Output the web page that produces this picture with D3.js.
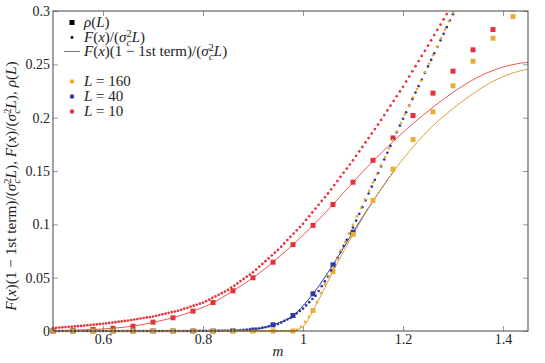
<!DOCTYPE html>
<html>
<head>
<meta charset="utf-8">
<script src="https://cdn.jsdelivr.net/npm/d3@7"></script>
<style>
  body { margin: 0; background: #fff; }
</style>
</head>
<body>
<div id="chart"></div>
<script>
// tick values
const xTicks = [0.6, 0.8, 1, 1.2, 1.4];
const yTicks = [0, 0.05, 0.1, 0.15, 0.2, 0.25, 0.3];

// rho(L): squares every 0.04 in m
const sqM = [0.50, 0.54, 0.58, 0.62, 0.66, 0.70, 0.74, 0.78, 0.82, 0.86, 0.90, 0.94,
             0.98, 1.02, 1.06, 1.10, 1.14, 1.18, 1.22, 1.26, 1.30, 1.34, 1.38, 1.42];
const redSq = [.0002, .0006, .0014, .0026, .0045, .0083, .0124, .0186, .0267, .0377, .0499, .0645,
               .0810, .0990, .1186, .1395, .1600, .1810, .2020, .2230, .2436, .2636, .2826, .3020];
const blueSq = [0, 0, 0, 0, 0, 0, 0, 0, 0, .0002, .0008, .0058,
                .0145, .0349, .0620, .0926];
const orangeSq = [0, 0, 0, 0, 0, 0, 0, 0, 0, 0, 0, 0,
                  0, .0192, .0558, .0905, .1223, .1517, .1795, .2055, .2299, .2529, .2745, .2948];

// F(x)/(sigma_c^2 L): dotted curves, sampled on a regular m grid
const redStep = 0.00625, blueStep = 0.00625, orangeStep = 0.008;
const redDots = [
  .0028, .0030, .0032, .0034, .0037, .0039, .0041, .0043,
  .0045, .0048, .0051, .0054, .0057, .0059, .0062, .0065,
  .0068, .0072, .0076, .0079, .0083, .0087, .0091, .0094,
  .0098, .0103, .0108, .0112, .0117, .0122, .0127, .0131,
  .0136, .0143, .0150, .0156, .0163, .0170, .0177, .0183,
  .0190, .0199, .0209, .0218, .0228, .0237, .0246, .0256,
  .0265, .0280, .0295, .0310, .0325, .0340, .0355, .0370,
  .0385, .0406, .0426, .0447, .0468, .0488, .0509, .0529,
  .0550, .0576, .0603, .0629, .0655, .0681, .0708, .0734,
  .0760, .0791, .0821, .0852, .0883, .0913, .0944, .0974,
  .1005, .1041, .1076, .1112, .1148, .1183, .1219, .1254,
  .1290, .1329, .1368, .1406, .1445, .1484, .1523, .1561,
  .1600, .1642, .1684, .1726, .1768, .1809, .1851, .1893,
  .1935, .1979, .2024, .2068, .2113, .2157, .2201, .2246,
  .2290, .2338, .2386, .2434, .2483, .2531, .2579, .2627,
  .2675, .2724, .2774, .2823, .2873, .2922, .2971, .3021
];
const blueDots = [
  0, 0, 0, 0, 0, 0, 0, 0, 0, 0,
  0, 0, 0, 0, 0, 0, 0, 0, 0, 0,
  0, 0, 0, 0, 0, 0, 0, 0, 0, 0,
  0, 0, 0, 0, 0, 0, 0, 0, 0, 0,
  0, 0, 0, 0, 0, .0001, .0001, .0001,
  .0001, .0001, .0001, .0002, .0002, .0003, .0003, .0004,
  .0004, .0005, .0006, .0007, .0008, .0010, .0012, .0015,
  .0017, .0022, .0026, .0031, .0035, .0043, .0050, .0058,
  .0065, .0079, .0094, .0108, .0122, .0144, .0166, .0188,
  .0210, .0240, .0270, .0300, .0330, .0375, .0420, .0465,
  .0510, .0568, .0625, .0683, .0740, .0798, .0855, .0913,
  .0970, .1034, .1098, .1161, .1225, .1289, .1353, .1416,
  .1480, .1544, .1608, .1671, .1735, .1799, .1863, .1926,
  .1990, .2051, .2113, .2174, .2235, .2296, .2358, .2419,
  .2480, .2541, .2603, .2664, .2725, .2786, .2848, .2909,
  .2970, .3031
];
const orangeDots = [
  0, 0, 0, 0, 0, 0, 0, 0, 0, 0,
  0, 0, 0, 0, 0, 0, 0, 0, 0, 0,
  0, 0, 0, 0, 0, 0, 0, 0, 0, 0,
  0, 0, 0, 0, 0, 0, 0, 0, 0, 0,
  0, 0, 0, 0, 0, 0, 0, 0, 0, 0,
  0, 0, 0, 0, 0, 0, 0, 0, 0, 0, 0,
  .0010, .0040, .0085, .0135, .0190, .0270, .0355, .0435, .0515, .0595,
  .0675, .0755, .0835, .0915, .0995, .1075, .1154, .1234, .1313, .1393,
  .1472, .1552, .1631, .1711, .1790, .1870, .1950, .2030, .2109, .2189,
  .2268, .2348, .2427, .2507, .2586, .2666, .2745, .2825, .2904, .2984,
  .3063
];

// F(x)(1 - 1st term)/(sigma_c^2 L): solid lines
const redLineM = [0.50, 0.54, 0.58, 0.62, 0.66, 0.70, 0.74, 0.78, 0.82, 0.86, 0.90, 0.94,
                  0.98, 1.02, 1.06, 1.10, 1.14, 1.18, 1.22, 1.26, 1.30, 1.34, 1.38, 1.42, 1.45];
const redLine = [.0003, .0007, .0014, .0026, .0046, .0081, .0125, .0185, .0266, .0376, .0499, .0645,
                 .0810, .0990, .1186, .1395, .1592, .1775, .1945, .2098, .2238, .2355, .2443, .2498, .2520];
const blueLineM = [0.50, 0.82, 0.86, 0.90, 0.94, 0.98, 1.02, 1.06, 1.10, 1.14, 1.18];
const blueLine = [0, 0, .0002, .0012, .0058, .0145, .0349, .0620, .0926, .1218, .1490];
const orangeLineM = [0.50, 0.96, 0.98, 1.00, 1.02, 1.06, 1.10, 1.14, 1.18, 1.22, 1.26, 1.30,
                     1.34, 1.38, 1.42, 1.45];
const orangeLine = [0, 0, .0003, .0040, .0192, .0558, .0905, .1215, .1490, .1725, .1925, .2085,
                    .2225, .2340, .2420, .2455];

const red = "#e5323a", blue = "#2e3a9c", orange = "#e9ae33";
const redLn = "#ee5a5a", orangeLn = "#d9a33c";
const serif = "'Liberation Serif', 'Times New Roman', 'DejaVu Serif', serif";
const fs = 14;

const W = 545, H = 363;
const margin = {top: 11, right: 17, bottom: 32, left: 53};
const iw = W - margin.left - margin.right, ih = H - margin.top - margin.bottom;

const svg = d3.select("#chart").append("svg").attr("width", W).attr("height", H)
  .attr("font-family", serif).attr("font-size", fs);
const g = svg.append("g").attr("transform", `translate(${margin.left},${margin.top})`);

const x = d3.scaleLinear().domain([0.5, 1.45]).range([0, iw]);
const y = d3.scaleLinear().domain([0, 0.3]).range([ih, 0]);

svg.append("defs").append("clipPath").attr("id", "clip")
  .append("rect").attr("x", -5).attr("y", 0).attr("width", iw + 5).attr("height", ih + 10);

const fmt = d => d === 0 ? "0" : String(+d.toFixed(2));

// axes, ticks pointing inward
const ax = g.append("g").attr("class", "axes");
ax.append("g").attr("transform", `translate(0,${ih})`)
  .call(d3.axisBottom(x).tickValues(xTicks).tickSize(-5).tickPadding(3).tickFormat(fmt));
ax.append("g")
  .call(d3.axisLeft(y).tickValues(yTicks).tickSize(-5).tickPadding(3).tickFormat(fmt));
ax.append("g")
  .call(d3.axisTop(x).tickValues(xTicks).tickSize(-5).tickFormat(""));
ax.append("g").attr("transform", `translate(${iw},0)`)
  .call(d3.axisRight(y).tickValues(yTicks).tickSize(-5).tickFormat(""));
ax.selectAll(".domain").remove();
ax.selectAll("g").attr("font-family", serif).attr("font-size", fs);
ax.selectAll(".tick line").attr("stroke", "#999");
ax.selectAll(".tick text").attr("font-family", serif).attr("font-size", fs).attr("fill", "#222");

const plot = g.append("g").attr("clip-path", "url(#clip)");

const line = d3.line().x(d => x(d[0])).y(d => y(d[1])).curve(d3.curveMonotoneX);
const zipLine = (ms, vs) => ms.map((m, i) => [m, vs[i]]);

plot.append("path").attr("d", line(zipLine(redLineM, redLine)))
  .attr("fill", "none").attr("stroke", redLn).attr("stroke-width", 1);
plot.append("path").attr("d", line(zipLine(blueLineM, blueLine)))
  .attr("fill", "none").attr("stroke", blue).attr("stroke-width", 1);
plot.append("path").attr("d", line(zipLine(orangeLineM, orangeLine)))
  .attr("fill", "none").attr("stroke", orangeLn).attr("stroke-width", 1);

const sq = 5;
function squares(vals, color) {
  plot.append("g").selectAll("rect").data(vals).join("rect")
    .attr("x", (d, i) => x(sqM[i]) - sq / 2)
    .attr("y", d => y(d) - sq / 2)
    .attr("width", sq).attr("height", sq)
    .attr("fill", color);
}
squares(redSq, red);
squares(blueSq, blue);
squares(orangeSq, orange);

function dots(vals, step, color) {
  plot.append("g").selectAll("circle").data(vals).join("circle")
    .attr("cx", (d, i) => x(0.5 + i * step))
    .attr("cy", d => y(d))
    .attr("r", 1.35)
    .attr("fill", color);
}
dots(redDots, redStep, red);
dots(blueDots, blueStep, blue);
dots(orangeDots, orangeStep, orange);

// frame
g.append("rect").attr("width", iw).attr("height", ih)
  .attr("fill", "none").attr("stroke", "#444").attr("stroke-width", 1);

// math-ish rich text
function rich(text, parts, size) {
  text.attr("font-family", serif).attr("font-size", size).attr("fill", "#222")
    .style("white-space", "pre");
  parts.forEach(p => {
    const t = text.append("tspan").text(p[0]);
    if (p[1] === "i") t.attr("font-style", "italic");
    if (p[2]) t.attr("dx", p[2]);
    if (p[3]) t.attr("dy", p[3]);
    if (p[4]) t.attr("font-size", p[4]);
  });
  return text;
}
const sigmaL = [["(", ""], ["σ", "i"], ["2", "", 0, -5.5, 10.5], ["c", "i", -5.2, 9, 10.5], ["L", "i", 0.5, -3.5], [")", ""]];
const rhoParts = [["ρ", "i"], ["(", ""], ["L", "i"], [")", ""]];
const fParts = [["F", "i"], ["(", ""], ["x", "i"], [")/", ""], ...sigmaL];
const f1Parts = [["F", "i"], ["(", ""], ["x", "i"], [")(1 − 1st term)/", ""], ...sigmaL];

// legend
const leg = g.append("g").attr("transform", "translate(19,0)");
const legRows = [
  {y: 11.5, kind: "sq", parts: rhoParts},
  {y: 26.5, kind: "dot", parts: fParts},
  {y: 40.5, kind: "line", parts: f1Parts},
  {y: 70.5, kind: "L", color: orange, parts: [["L", "i"], [" = 160", ""]]},
  {y: 85.5, kind: "L", color: blue, parts: [["L", "i"], [" = 40", ""]]},
  {y: 100.5, kind: "L", color: red, parts: [["L", "i"], [" = 10", ""]]}
];
legRows.forEach(r => {
  if (r.kind === "sq") leg.append("rect").attr("x", -2.5).attr("y", r.y - 2.5).attr("width", 5).attr("height", 5).attr("fill", "#000");
  if (r.kind === "dot") leg.append("circle").attr("cx", 0).attr("cy", r.y).attr("r", 1.4).attr("fill", "#000");
  if (r.kind === "line") leg.append("line").attr("x1", -8).attr("x2", 8).attr("y1", r.y).attr("y2", r.y).attr("stroke", "#777");
  if (r.kind === "L") leg.append("circle").attr("cx", 0).attr("cy", r.y).attr("r", 2.2).attr("fill", r.color);
  rich(leg.append("text").attr("x", 12).attr("y", r.y + 4.8), r.parts, 15);
});

// axis titles
rich(svg.append("text").attr("x", margin.left + x(0.95)).attr("y", 356).attr("text-anchor", "middle"), [["m", "i"]], 15);
rich(svg.append("text").attr("transform", "translate(16,186) rotate(-90)").attr("text-anchor", "middle"),
  [...f1Parts, [", ", ""], ...fParts, [", ", ""], ...rhoParts], 15.3);
</script>
</body>
</html>
